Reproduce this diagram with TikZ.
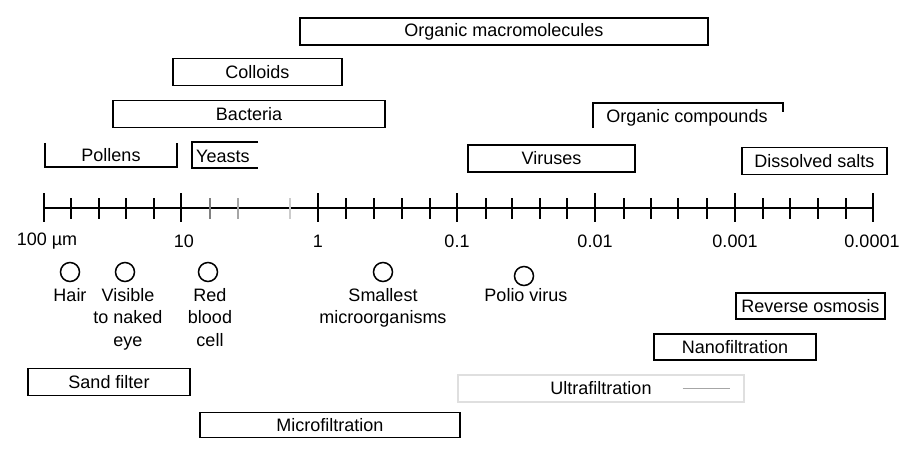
\documentclass[tikz,border=0pt]{standalone}
\usepackage{fontspec}
\setmainfont{Liberation Sans}
\begin{document}
\begin{tikzpicture}[x=1pt,y=-1pt,
  lbl/.style={font=\fontsize{18}{22.5}\selectfont, inner sep=0pt, align=center},
  rangebox/.style={lbl, draw, line width=1.6pt, minimum height=27pt},
  openbox/.style={lbl, minimum height=24pt},
  tk/.style={line width=1.6pt},
  mn/.style={line width=1.3pt},
  dot/.style={circle, draw, line width=1.5pt, minimum size=19pt, inner sep=0pt}]
\useasboundingbox (0,0) rectangle (904,451);
% top ranges
\node[rangebox, minimum width=408pt] (orgmac) at (504,31.5) {Organic macromolecules};
\node[rangebox, minimum width=169pt] (coll) at (257.5,72) {Colloids};
\node[rangebox, minimum width=272pt] (bact) at (249,114) {Bacteria};
\node[openbox, minimum width=132pt] (pol) at (111,155) {Pollens};
\draw[line width=1.5pt] (pol.north west) |- (pol.south east) -- (pol.north east);
\node[openbox, minimum width=66pt, minimum height=26pt] (yea) at (225,155) {};
\node[lbl, anchor=west] (yeat) at (196,156) {Yeasts};
\draw[line width=1.5pt] (yea.north east) -| (yea.south west) -- (yea.south east);
\node[rangebox, minimum width=167pt] (vir) at (551.5,158.5) {Viruses};
\node[openbox, minimum width=190pt, minimum height=25pt] (orgc) at (688,115.5) {};
\node[lbl] (orgct) at (687,118) {Organic compounds};
\draw[line width=1.5pt] (orgc.south west) -- (orgc.north west) -- (orgc.north east) -- ([yshift=-9pt]orgc.north east);
\node[rangebox, minimum width=145pt] (salt) at (814.5,161) {Dissolved salts};
% axis
\coordinate (axL) at (44,208);
\coordinate (axR) at (874,208);
\draw[line width=1.3pt] (axL) -- (axR);
\foreach \x in {44,181,318,457,595,735,873}
  \draw[tk] (\x,193) -- (\x,222);
\foreach \x in {71,99,126,154,346,374,402,430,486,512,540,567,624,651,678,707,763,790,818,846}
  \draw[mn] (\x,198) -- (\x,219);
\draw[mn, gray] (210,198) -- (210,219);
\draw[mn, gray!70] (238,198) -- (238,219);
\draw[mn, gray!40] (290,198) -- (290,219);
\node[lbl] (l100) at (47,241) {100 µm};
\node[lbl] (l10) at (184,241) {10};
\node[lbl] (l1) at (318,241) {1};
\node[lbl] (l01) at (457,241) {0.1};
\node[lbl] (l001) at (595,241) {0.01};
\node[lbl] (l0001) at (735,241) {0.001};
\node[lbl] (l00001) at (872,241) {0.0001};
% reference sizes
\node[dot] (c1) at (70,272) {};
\node[dot] (c2) at (125,272) {};
\node[dot] (c3) at (208,272) {};
\node[dot] (c4) at (383,272) {};
\node[dot] (c5) at (524,276) {};
\node[lbl, anchor=north] (t1) at (70,288) {Hair};
\node[lbl, anchor=north] (t2) at (128,288) {Visible\\to naked\\eye};
\node[lbl, anchor=north] (t3) at (210,288) {Red\\blood\\cell};
\node[lbl, anchor=north] (t4) at (383,288) {Smallest\\microorganisms};
\node[lbl, anchor=north] (t5) at (526,288) {Polio virus};
% filtration ranges
\node[rangebox, minimum width=149pt, minimum height=26pt] (ro) at (810.5,306) {Reverse osmosis};
\node[rangebox, minimum width=162pt, minimum height=26pt] (nf) at (735,347) {Nanofiltration};
\node[rangebox, minimum width=286pt, draw=gray!25, line width=1.2pt] (uf) at (601,388.5) {Ultrafiltration};
\draw[gray!70, line width=1.3pt] ([xshift=-62pt]uf.east) -- ([xshift=-15pt]uf.east);
\node[rangebox, minimum width=162pt] (sand) at (109,382) {Sand filter};
\node[rangebox, minimum width=260pt, minimum height=25pt] (mf) at (330,425) {Microfiltration};
\end{tikzpicture}
\end{document}
